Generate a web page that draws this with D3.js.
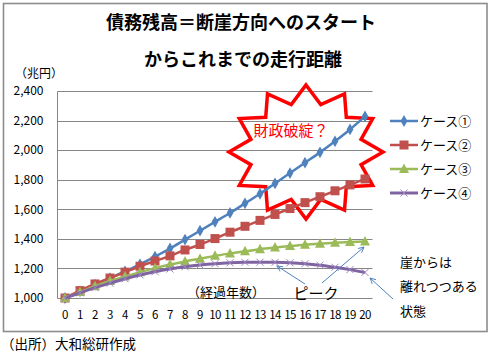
<!DOCTYPE html>
<html><head><meta charset="utf-8">
<script src="https://cdn.jsdelivr.net/npm/d3@7"></script>
<style>
body{margin:0;background:#fff;}
svg{display:block;font-family:"Noto Sans CJK JP","Noto Sans",sans-serif;}
</style></head>
<body><svg id="c" width="493" height="356"></svg>
<script>
const years = d3.range(0, 21).map(String);
const seriesNames = ["ケース①","ケース②","ケース③","ケース④"];
const case1 = [1000,1045,1090,1135,1180,1228,1280,1335,1395,1455,1515,1575,1640,1705,1775,1845,1915,1985,2060,2140,2228];
const case2 = [1000,1050,1095,1135,1175,1215,1250,1285,1325,1362,1402,1445,1485,1525,1565,1605,1645,1685,1725,1765,1805];
const case3 = [1000,1040,1080,1115,1145,1175,1202,1226,1247,1266,1285,1301,1316,1330,1341,1351,1360,1367,1373,1378,1382];
const case4 = [1000,1035,1070,1100,1130,1156,1178,1196,1211,1223,1232,1238,1241,1242,1241,1238,1232,1222,1208,1192,1173];
const yTicks = [1000,1200,1400,1600,1800,2000,2200,2400];
const colors = ["#4F81BD","#C0504D","#9BBB59","#8064A2"];
const markers = ["diamond","square","triangle","cross"];
const data = [case1, case2, case3, case4];

const svg = d3.select("#c");
// outer border
svg.append("rect").attr("x",3.5).attr("y",3.5).attr("width",483.5).attr("height",328)
  .attr("fill","#fff").attr("stroke","#8c8c8c").attr("stroke-width",1.6);

// titles
svg.append("text").attr("x",241).attr("y",29).attr("text-anchor","middle")
  .attr("font-size",18).attr("font-weight","bold").text("債務残高＝断崖方向へのスタート");
svg.append("text").attr("x",243).attr("y",66).attr("text-anchor","middle")
  .attr("font-size",18).attr("font-weight","bold").text("からこれまでの走行距離");
svg.append("text").attr("x",15).attr("y",78).attr("font-size",12).text("（兆円）");

const x = d3.scaleBand().domain(years).range([57.5, 372.5]);
const y = d3.scaleLinear().domain([1000, 2400]).range([298, 91]);
const xc = d => x(d) + x.bandwidth()/2;

// gridlines
svg.append("g").selectAll("line").data(yTicks).join("line")
  .attr("x1",57.5).attr("x2",372.5).attr("y1",d=>Math.round(y(d))+0.5).attr("y2",d=>Math.round(y(d))+0.5)
  .attr("stroke","#868686").attr("stroke-width",1);
svg.append("line").attr("x1",57.5).attr("x2",57.5).attr("y1",Math.round(y(2400))+0.5).attr("y2",Math.round(y(1000))+0.5)
  .attr("stroke","#868686");

// axes
const ya = svg.append("g").attr("transform","translate(57.5,0)")
  .call(d3.axisLeft(y).tickValues(yTicks).tickFormat(d3.format(",")).tickSize(0).tickPadding(14));
ya.select(".domain").remove();
ya.selectAll("text").attr("font-size",12).attr("fill","#000").attr("font-family","'Noto Sans CJK JP',sans-serif");
const xa = svg.append("g").attr("transform","translate(0,298.5)")
  .call(d3.axisBottom(x).tickSize(0).tickPadding(12));
xa.select(".domain").remove();
xa.selectAll("text").attr("font-size",11.5).attr("fill","#000").attr("font-family","'Noto Sans CJK JP',sans-serif").attr("letter-spacing",-0.5);

// starburst (annotation)
const cx = 306, cy = 152, n = 12;
const pts = [];
for (let i = 0; i < 2*n; i++) {
  const a = -Math.PI/2 + i*Math.PI/n;
  const rx = i%2===0 ? 77 : 57, ry = i%2===0 ? 67 : 49;
  pts.push([cx + rx*Math.cos(a), cy + ry*Math.sin(a)]);
}
svg.append("polygon").attr("points", pts.map(p=>p.join(",")).join(" "))
  .attr("fill","none").attr("stroke","#FF0000").attr("stroke-width",3.5).attr("stroke-linejoin","miter");
svg.append("text").attr("x",291).attr("y",136).attr("text-anchor","middle").attr("font-size",15)
  .attr("fill","#FF0000").text("財政破綻？");

// series
const line = d3.line().x((d,i)=>xc(years[i])).y(d=>y(d)).curve(d3.curveMonotoneX);
function drawMarker(g, type, color, size){
  if (type==="diamond") g.append("path").attr("d",d3.symbol(d3.symbolDiamond, 40)()).attr("fill",color);
  else if (type==="square") g.append("rect").attr("x",-4.5).attr("y",-4.5).attr("width",9).attr("height",9).attr("fill",color);
  else if (type==="triangle") g.append("path").attr("d","M0,-5.5L5,4L-5,4Z").attr("fill",color);
  else g.append("path").attr("d","M-3.5,-3.5L3.5,3.5M-3.5,3.5L3.5,-3.5").attr("stroke","#9a86c0").attr("stroke-width",1).attr("fill","none");
}
data.forEach((s, k) => {
  const g = svg.append("g");
  g.append("path").datum(s).attr("d", line).attr("fill","none").attr("stroke",colors[k])
    .attr("stroke-width", k===3 ? 3 : 2.5);
  s.forEach((v,i)=>{
    const mg = g.append("g").attr("transform",`translate(${xc(years[i])},${y(v)})`);
    drawMarker(mg, markers[k], colors[k]);
  });
});

// legend
const legY = [121, 145, 169, 193];
seriesNames.forEach((name,k)=>{
  const g = svg.append("g").attr("transform",`translate(0,${legY[k]})`);
  g.append("line").attr("x1",390).attr("x2",418).attr("stroke",colors[k]).attr("stroke-width",k===3?3:2.5);
  const mg = g.append("g").attr("transform","translate(404,0)");
  drawMarker(mg, markers[k], colors[k]);
  g.append("text").attr("x",420).attr("y",5).attr("font-size",13).text(name);
});

// annotations
svg.append("defs").append("marker").attr("id","arr").attr("viewBox","0 0 10 10").attr("refX",9).attr("refY",5)
  .attr("markerWidth",7).attr("markerHeight",7).attr("orient","auto-start-reverse").attr("markerUnits","userSpaceOnUse")
  .append("path").attr("d","M1,1L9,5L1,9").attr("fill","none").attr("stroke","#4F81BD").attr("stroke-width",1.3);
const arrows = [[305,284,277,266],[322,283,364,247],[393,299,370,278]];
arrows.forEach(a=>svg.append("line").attr("x1",a[0]).attr("y1",a[1]).attr("x2",a[2]).attr("y2",a[3])
  .attr("stroke","#4F81BD").attr("stroke-width",1).attr("marker-end","url(#arr)"));
svg.append("text").attr("x",187).attr("y",297).attr("font-size",13).text("（経過年数）");
svg.append("text").attr("x",316).attr("y",299).attr("text-anchor","middle").attr("font-size",15).text("ピーク");
svg.append("text").attr("x",400).attr("y",267).attr("font-size",13).text("崖からは");
svg.append("text").attr("x",400).attr("y",291).attr("font-size",13).text("離れつつある");
svg.append("text").attr("x",400).attr("y",316).attr("font-size",13).text("状態");
svg.append("text").attr("x",1).attr("y",349).attr("font-size",13.5).text("（出所）大和総研作成");
</script></body></html>
